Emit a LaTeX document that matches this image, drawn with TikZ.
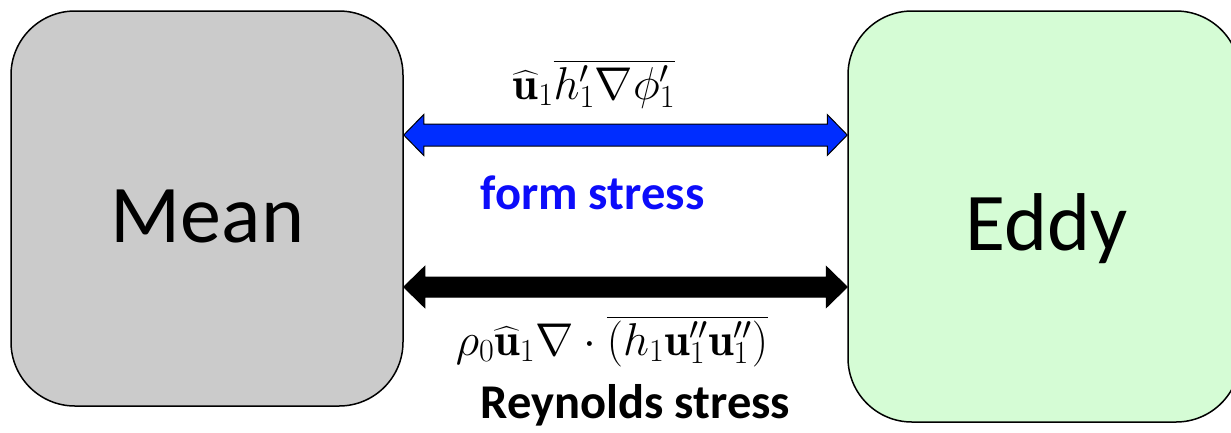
\RequirePackage{fix-cm}
\documentclass[tikz,border=0pt]{standalone}
\usepackage{amsmath}
\usepackage{fontspec}
\newfontfamily\calibri{Carlito}
\usetikzlibrary{calc}
\definecolor{meangray}{RGB}{203,203,203}
\definecolor{eddygreen}{RGB}{213,252,213}
\definecolor{arrowblue}{RGB}{0,45,255}
\definecolor{textblue}{RGB}{12,12,250}
\tikzset{
  box/.style={draw=black, line width=1.5pt, rounded corners=64pt, minimum width=392pt, inner sep=0pt},
  bigtext/.style={font=\calibri\fontsize{82}{90}\selectfont, anchor=base, inner sep=0pt},
  stresstext/.style={font=\calibri\bfseries\fontsize{48.5}{54}\selectfont, anchor=base, inner sep=0pt},
  mathtext/.style={font=\fontsize{46}{50}\selectfont, anchor=base, inner sep=0pt},
  arrowbody/.style={draw=black, line width=1pt, line join=miter},
}
\begin{document}
\begin{tikzpicture}[x=1pt,y=-1pt]
\clip (0,0) rectangle (1231,432);
\node[box, fill=meangray, minimum height=395pt] (mean) at (207,208.5) {};
\node[box, fill=eddygreen, minimum height=411pt] (eddy) at (1044,216.5) {};
\node[bigtext] (meantext) at (207.5,242) {Mean};
\node[bigtext] (eddytext) at (1046.5,250) {Eddy};
\coordinate (ya) at (0,135);
\coordinate (yb) at (0,287);
\draw[arrowbody, fill=arrowblue] (mean.east |- ya) -- ++(20,-20.5) -- ++(0,9.5) -- ($(eddy.west |- ya)+(-20,-11)$) -- ++(0,-9.5) -- (eddy.west |- ya) -- ++(-20,20.5) -- ++(0,-9.5) -- ($(mean.east |- ya)+(20,11)$) -- ++(0,9.5) -- cycle;
\draw[arrowbody, fill=black] (mean.east |- yb) -- ++(21,-20.5) -- ++(0,10.5) -- ($(eddy.west |- yb)+(-21,-10)$) -- ++(0,-10.5) -- (eddy.west |- yb) -- ++(-21,20.5) -- ++(0,-10.5) -- ($(mean.east |- yb)+(21,10)$) -- ++(0,10.5) -- cycle;
\node[mathtext] (fs) at (594,99) {$\widehat{\mathbf{u}}_1\overline{h'_1\nabla\phi'_1}$};
\node[stresstext, text=textblue] (fsl) at (592.5,209) {form stress};
\node[mathtext] (rs) at (612,355) {$\rho_0\widehat{\mathbf{u}}_1\nabla\cdot\overline{(h_1\mathbf{u}''_1\mathbf{u}''_1)}$};
\node[stresstext] (rsl) at (635.5,418) {Reynolds stress};
\end{tikzpicture}
\end{document}
